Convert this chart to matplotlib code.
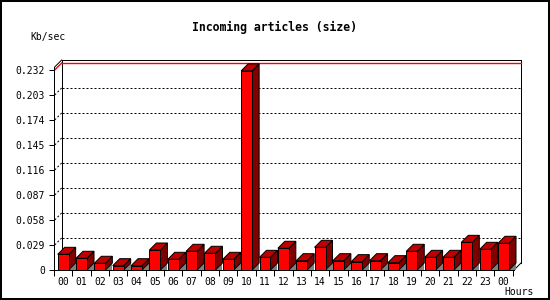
import numpy as np
import matplotlib
matplotlib.use('Agg')
import matplotlib.pyplot as plt
from matplotlib.patches import Polygon, Rectangle

# Données
hours = ['00', '01', '02', '03', '04', '05', '06', '07', '08', '09', '10', '11',
         '12', '13', '14', '15', '16', '17', '18', '19', '20', '21', '22', '23', '00']
kb_sec = [0.0182, 0.0136, 0.0078, 0.0050, 0.0050, 0.0232, 0.0124, 0.0217, 0.0194,
          0.0124, 0.2310, 0.0147, 0.0252, 0.0108, 0.0263, 0.0108, 0.0097, 0.0108,
          0.0085, 0.0217, 0.0147, 0.0147, 0.0321, 0.0240, 0.0310]
y_ticks = [0, 0.029, 0.058, 0.087, 0.116, 0.145, 0.174, 0.203, 0.232]
y_labels = ['0', '0.029', '0.058', '0.087', '0.116', '0.145', '0.174', '0.203', '0.232']
max_line = 0.232

MONO = 'DejaVu Sans Mono'
W, H = 550, 300
LW = 0.72  # 1 pixel

fig = plt.figure(figsize=(W / 100, H / 100), dpi=100)

# axe "avant" en pixels: x 54..514, y 270..67
x_left, x_right = 54, 514
y_bot, y_top = 270, 67
ax = fig.add_axes([x_left / W, (H - y_bot) / H, (x_right - x_left) / W, (y_bot - y_top) / H])

px_x = 18.375            # pixels par barre
px_y = 25 / 0.029        # pixels par unité
xmin = (x_left - 62.5) / px_x
xmax = (x_right - 62.5) / px_x
ymax = (y_bot - y_top) / px_y
ax.set_xlim(xmin, xmax)
ax.set_ylim(0, ymax)

# profondeur 3D
dx = 7 / px_x
dy = 7 / px_y
bw = 11 / px_x

for s in ['top', 'right']:
    ax.spines[s].set_visible(False)
for s in ['left', 'bottom']:
    ax.spines[s].set_linewidth(LW)
    ax.spines[s].set_zorder(6)
ax.patch.set_visible(False)

# plan du fond (segments séparés pour garder les lignes droites nettes)
kw = dict(color='black', lw=LW, clip_on=False, zorder=2)
ax.plot([xmin, xmin + dx], [ymax, ymax + dy], **kw)
ax.plot([xmin + dx, xmax + dx], [ymax + dy, ymax + dy], **kw)
ax.plot([xmax + dx, xmax + dx], [dy, ymax + dy], **kw)
ax.plot([xmin + dx, xmin + dx], [dy, ymax + dy], **kw)
ax.plot([xmax, xmax + dx], [0, dy], **kw)

# grille pointillée
for t in y_ticks[1:-1]:
    ax.plot([xmin, xmin + dx], [t, t + dy], color='black', lw=LW,
            ls=(0, (2, 2)), clip_on=False, zorder=1)
    ax.plot([xmin + dx, xmax + dx], [t + dy, t + dy], color='black', lw=LW,
            ls=(0, (2, 2)), clip_on=False, zorder=1)

# ligne du max
ax.plot([xmin, xmin + dx], [max_line, max_line + dy], color='#ff0000', lw=1.0,
        clip_on=False, zorder=3)
ax.plot([xmin + dx, xmax + dx], [max_line + dy, max_line + dy], color='#ff0000',
        lw=1.0, clip_on=False, zorder=3)

# barres 3D
for i, v in enumerate(kb_sec):
    x0 = i - bw / 2
    x1 = i + bw / 2
    ax.add_patch(Polygon([(x1, 0), (x1 + dx, 0), (x1 + dx, dy)], closed=True,
                         facecolor='#808080', edgecolor='none', clip_on=False, zorder=3))
    ax.add_patch(Polygon([(x1, 0), (x1 + dx, dy), (x1 + dx, v + dy), (x1, v)], closed=True,
                         facecolor='#800000', edgecolor='black', lw=LW, clip_on=False, zorder=4))
    ax.add_patch(Polygon([(x0, v), (x1, v), (x1 + dx, v + dy), (x0 + dx, v + dy)], closed=True,
                         facecolor='#c00000', edgecolor='black', lw=LW, clip_on=False, zorder=4))
    ax.add_patch(Rectangle((x0, 0), bw, v, facecolor='#ff0000', edgecolor='black',
                           lw=LW, clip_on=False, zorder=5))

# graduations
ax.set_yticks(y_ticks)
ax.set_yticklabels(y_labels, family=MONO, fontsize=7)
ax.tick_params(axis='y', length=3.6, width=LW, pad=3)

ax.set_xticks(range(len(hours)))
ax.set_xticklabels(hours, family=MONO, fontsize=7)
ax.set_xticks(np.arange(len(hours) + 1) - 0.5, minor=True)
ax.tick_params(axis='x', which='major', length=0, pad=5)
ax.tick_params(axis='x', which='minor', length=4.3, width=LW)

# textes
fig.text(275 / W, 1 - 27 / H, 'Incoming articles (size)', family=MONO, fontsize=8.3,
         fontweight='bold', ha='center', va='center')
fig.text(30 / W, 1 - 37 / H, 'Kb/sec', family=MONO, fontsize=7, ha='left', va='center')
fig.text(519 / W, 1 - 292 / H, 'Hours', family=MONO, fontsize=7, ha='center', va='center')

# cadre de l'image
fig.patches.append(Rectangle((0, 0), 1, 1, transform=fig.transFigure, fill=False,
                             edgecolor='black', lw=2.9))

plt.savefig('out.png', dpi=100)
plt.close()
